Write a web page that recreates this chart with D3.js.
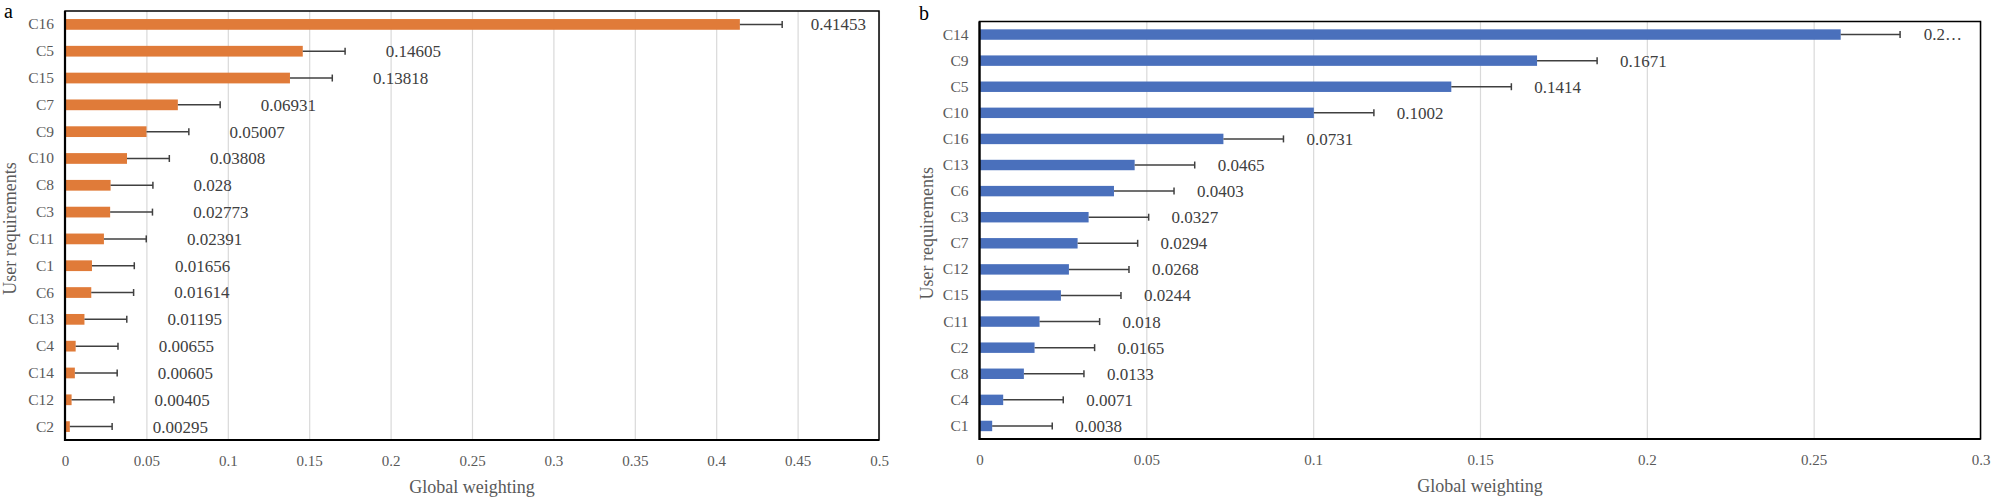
<!DOCTYPE html>
<html>
<head>
<meta charset="utf-8">
<script src="https://cdn.jsdelivr.net/npm/d3@7"></script>
<style>
  body { margin: 0; background: #fff; }
  text { font-family: "Liberation Serif", "Times New Roman", serif; }
</style>
</head>
<body>
<div id="chart"></div>
<script>
// panel a
const catsA = ["C16", "C5", "C15", "C7", "C9", "C10", "C8", "C3", "C11", "C1", "C6", "C13", "C4", "C14", "C12", "C2"];
const valsA = [0.41453, 0.14605, 0.13818, 0.06931, 0.05007, 0.03808, 0.028, 0.02773, 0.02391, 0.01656, 0.01614, 0.01195, 0.00655, 0.00605, 0.00405, 0.00295];
const errsA = [0.026, 0.026, 0.026, 0.026, 0.026, 0.026, 0.026, 0.026, 0.026, 0.026, 0.026, 0.026, 0.026, 0.026, 0.026, 0.026];
const ticksA = [0, 0.05, 0.1, 0.15, 0.2, 0.25, 0.3, 0.35, 0.4, 0.45, 0.5];

// panel b
const catsB = ["C14", "C9", "C5", "C10", "C16", "C13", "C6", "C3", "C7", "C12", "C15", "C11", "C2", "C8", "C4", "C1"];
const valsB = [0.2581, 0.1671, 0.1414, 0.1002, 0.0731, 0.0465, 0.0403, 0.0327, 0.0294, 0.0268, 0.0244, 0.018, 0.0165, 0.0133, 0.0071, 0.0038];
const errsB = [0.0178, 0.018, 0.018, 0.018, 0.018, 0.018, 0.018, 0.018, 0.018, 0.018, 0.018, 0.018, 0.018, 0.018, 0.018, 0.018];
const ticksB = [0, 0.05, 0.1, 0.15, 0.2, 0.25, 0.3];

const xTitle = "Global weighting";
const yTitle = "User requirements";

const svg = d3.select("#chart")
  .append("svg")
  .attr("width", 2000)
  .attr("height", 503);

svg.append("rect").attr("width", 2000).attr("height", 503).attr("fill", "#fff");

function drawPanel(o) {
  const x = d3.scaleLinear()
    .domain([0, o.ticks[o.ticks.length - 1]])
    .range([o.left, o.right]);

  const y = d3.scaleBand()
    .domain(o.cats)
    .range([o.top, o.bottom])
    .paddingInner(0.6)
    .paddingOuter(0.3);

  const h = o.bottom - o.top;
  const fmt = d => String(+d.toFixed(2));

  // gridlines
  svg.append("g")
    .attr("transform", `translate(0,${o.bottom})`)
    .call(d3.axisBottom(x).tickValues(o.ticks).tickSize(-h).tickFormat(""))
    .call(g => g.select(".domain").remove())
    .call(g => g.selectAll("line").attr("stroke", "#d9d9d9").attr("stroke-width", 1.2));

  // bars
  const rows = o.cats.map((c, i) => ({ cat: c, v: o.vals[i], e: o.errs[i] }));

  svg.append("g").selectAll("rect")
    .data(rows)
    .join("rect")
    .attr("x", x(0))
    .attr("y", d => y(d.cat))
    .attr("width", d => x(d.v) - x(0))
    .attr("height", y.bandwidth())
    .attr("fill", o.color);

  // error bars
  const eb = svg.append("g").attr("stroke", "#404040").attr("stroke-width", 1.5);
  eb.selectAll("line.h")
    .data(rows)
    .join("line")
    .attr("class", "h")
    .attr("x1", d => x(d.v))
    .attr("x2", d => x(d.v + d.e))
    .attr("y1", d => y(d.cat) + y.bandwidth() / 2)
    .attr("y2", d => y(d.cat) + y.bandwidth() / 2);
  eb.selectAll("line.c")
    .data(rows)
    .join("line")
    .attr("class", "c")
    .attr("x1", d => x(d.v + d.e))
    .attr("x2", d => x(d.v + d.e))
    .attr("y1", d => y(d.cat) + y.bandwidth() / 2 - 3.5)
    .attr("y2", d => y(d.cat) + y.bandwidth() / 2 + 3.5);

  // data labels (excel style: shift or cut with an ellipsis when too long)
  svg.append("g").selectAll("text")
    .data(rows)
    .join("text")
    .attr("x", d => x(d.v) + 83)
    .attr("y", d => y(d.cat) + y.bandwidth() / 2)
    .attr("dy", "0.35em")
    .attr("fill", "#404040")
    .style("font-size", "17px")
    .text(d => String(d.v))
    .each(function () {
      const t = d3.select(this);
      const limit = o.right - 13;
      const x0 = +t.attr("x");
      if (x0 + this.getComputedTextLength() <= limit) return;
      if (o.overflow === "shift") {
        t.attr("x", limit - this.getComputedTextLength());
      } else {
        let s = t.text();
        while (s.length > 1) {
          s = s.slice(0, -1);
          t.text(s + "\u2026");
          if (x0 + this.getComputedTextLength() <= limit) break;
        }
      }
    });

  // axes
  svg.append("g")
    .attr("transform", `translate(0,${o.bottom})`)
    .call(d3.axisBottom(x).tickValues(o.ticks).tickSize(0).tickPadding(15).tickFormat(fmt))
    .call(g => g.select(".domain").remove())
    .call(g => g.selectAll("text").attr("fill", "#595959").style("font-size", "15px"));

  svg.append("g")
    .attr("transform", `translate(${o.left},0)`)
    .call(d3.axisLeft(y).tickSize(0).tickPadding(11))
    .call(g => g.select(".domain").remove())
    .call(g => g.selectAll("text").attr("fill", "#595959").style("font-size", "15.5px"));

  // plot border
  svg.append("rect")
    .attr("x", o.left)
    .attr("y", o.top)
    .attr("width", o.right - o.left)
    .attr("height", h)
    .attr("fill", "none")
    .attr("stroke", "#000")
    .attr("stroke-width", 1.5);
  svg.append("path")
    .attr("d", `M${o.left},${o.top}V${o.bottom}H${o.right}`)
    .attr("fill", "none")
    .attr("stroke", "#000")
    .attr("stroke-width", 2.2);

  // titles
  svg.append("text")
    .attr("x", (o.left + o.right) / 2)
    .attr("y", o.bottom + 53)
    .attr("text-anchor", "middle")
    .attr("fill", "#595959")
    .style("font-size", "18px")
    .text(xTitle);

  svg.append("text")
    .attr("transform", `translate(${o.yTitleX},${(o.top + o.bottom) / 2 + 3}) rotate(-90)`)
    .attr("text-anchor", "middle")
    .attr("dy", "0.35em")
    .attr("fill", "#595959")
    .style("font-size", "18px")
    .text(yTitle);

  svg.append("text")
    .attr("x", o.tagX)
    .attr("y", o.tagY)
    .attr("fill", "#000")
    .style("font-size", "20px")
    .text(o.tag);
}

drawPanel({
  cats: catsA, vals: valsA, errs: errsA, ticks: ticksA,
  color: "#E07B39", left: 65, right: 879, top: 11, bottom: 440,
  yTitleX: 10, tag: "a", tagX: 4, tagY: 18, overflow: "shift"
});

drawPanel({
  cats: catsB, vals: valsB, errs: errsB, ticks: ticksB,
  color: "#4A70BC", left: 979.5, right: 1980.5, top: 21.5, bottom: 439,
  yTitleX: 927, tag: "b", tagX: 919, tagY: 20, overflow: "truncate"
});
</script>
</body>
</html>
